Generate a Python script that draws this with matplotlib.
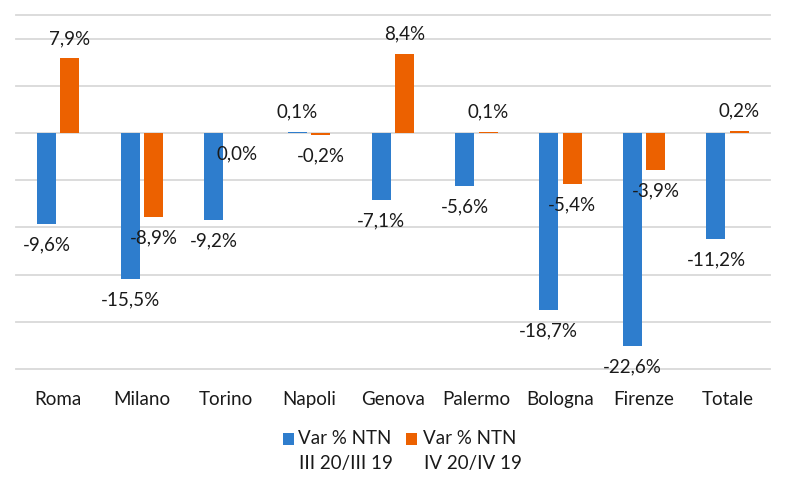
import matplotlib
matplotlib.use("Agg")
import matplotlib.pyplot as plt
from matplotlib.patches import Rectangle
import numpy as np

categories = ["Roma", "Milano", "Torino", "Napoli", "Genova", "Palermo", "Bologna", "Firenze", "Totale"]
var_iii = [-9.6, -15.5, -9.2, 0.1, -7.1, -5.6, -18.7, -22.6, -11.2]
var_iv = [7.9, -8.9, 0.0, -0.2, 8.4, 0.1, -5.4, -3.9, 0.2]
series_names = ["Var % NTN\nIII 20/III 19", "Var % NTN\nIV 20/IV 19"]

BLUE = "#2E7DCD"
ORANGE = "#EC6100"
TEXT = "#1a1a1a"
FONT = ["Lato", "DejaVu Sans"]
plt.rcParams["font.family"] = FONT
FS = 13.5

W, H = 787, 488
fig = plt.figure(figsize=(W / 100, H / 100), dpi=100)

# axes in pixel coordinates
left, right, top, bottom = 16.4, 769.5, 15, 369
ax = fig.add_axes([left / W, 1 - bottom / H, (right - left) / W, (bottom - top) / H])

x = np.arange(len(categories))
bw = 0.227
off = 0.14
ax.bar(x - off, var_iii, width=bw, color=BLUE, zorder=3)
ax.bar(x + off, var_iv, width=bw, color=ORANGE, zorder=3)

ax.set_xlim(-0.5, len(categories) - 0.5)
ax.set_ylim(-25, 12.5)
grid_vals = [-25, -20, -15, -10, -5, 0, 5, 10, 12.5]
for g in grid_vals:
    ax.axhline(g, color="#d9d9d9", lw=1.3, zorder=1, clip_on=False)

for s in ax.spines.values():
    s.set_visible(False)
ax.set_yticks([])
ax.set_xticks(x)
ax.set_xticklabels(categories, fontsize=FS, color=TEXT)
ax.tick_params(axis="x", length=0, pad=16)


def fmt(v):
    return f"{v:.1f}%".replace(".", ",")


for xs, vals in ((x - off, var_iii), (x + off, var_iv)):
    for xi, v in zip(xs, vals):
        dy = 20 if v > 0 else -21
        ax.annotate(fmt(v), (xi, v), xytext=(0, dy), textcoords="offset pixels",
                    ha="center", va="center", fontsize=FS, color=TEXT, zorder=4)

# legend drawn in pixel positions
def px(xp, yp):
    return xp / W, 1 - yp / H

for (sx, tx, col, name) in ((283, 298, BLUE, series_names[0]), (406, 423, ORANGE, series_names[1])):
    x0, y0 = px(sx, 445)
    fig.patches.append(Rectangle((x0, y0), 11 / W, 12 / H, transform=fig.transFigure,
                                 facecolor=col, edgecolor="none"))
    lines = name.split("\n")
    fig.text(*px(tx, 439), lines[0], ha="left", va="center", fontsize=FS, color=TEXT)
    fig.text(*px(tx + 1, 463), lines[1], ha="left", va="center", fontsize=FS, color=TEXT)

fig.savefig("out.png", dpi=100)
